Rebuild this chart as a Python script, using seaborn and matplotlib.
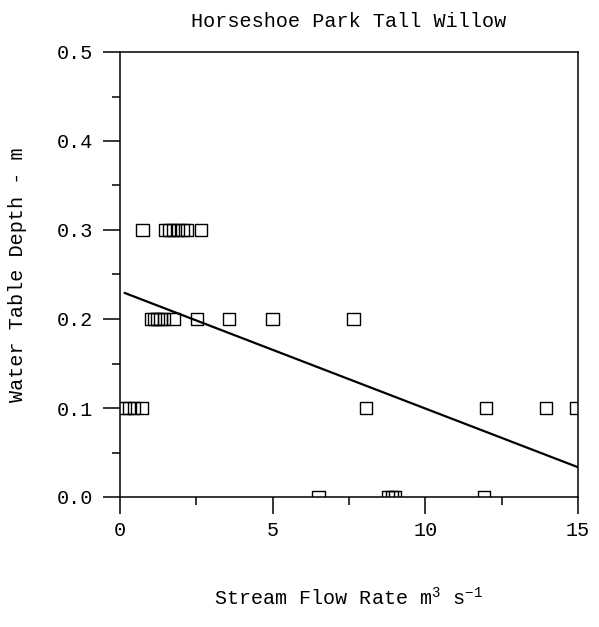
import numpy as np
import pandas as pd
import matplotlib
matplotlib.use("Agg")
import matplotlib.pyplot as plt
import seaborn as sns
from matplotlib.ticker import MultipleLocator, FormatStrFormatter

# Stream flow (m^3/s) and water table depth (m) observations
flow_03 = [0.74, 1.47, 1.60, 1.74, 1.90, 2.05, 2.20, 2.65]
flow_02 = [1.03, 1.13, 1.23, 1.33, 1.45, 1.75, 2.52, 3.57, 4.99, 7.65]
flow_01 = [0.15, 0.30, 0.45, 0.72, 8.05, 11.98, 13.95, 14.93]
flow_00 = [6.50, 8.78, 8.91, 9.00, 11.92]
depth_levels = [0.3, 0.2, 0.1, 0.0]

# Least-squares trend line
fit_intercept = 0.2313
fit_slope = -0.01319

x_max = 15.0
y_max = 0.5

title = "Horseshoe Park Tall Willow"
x_label = "Stream Flow Rate m$^{3}$ s$^{-1}$"
y_label = "Water Table Depth - m"

groups = [flow_03, flow_02, flow_01, flow_00]
df = pd.DataFrame({
    "flow": np.concatenate(groups),
    "depth": np.concatenate([[lvl] * len(g) for lvl, g in zip(depth_levels, groups)]),
})

sns.set_theme(style="white")
plt.rcParams["font.family"] = ["Liberation Mono", "DejaVu Sans Mono"]
plt.rcParams["mathtext.fontset"] = "custom"
plt.rcParams["mathtext.rm"] = "Liberation Mono"
plt.rcParams["mathtext.it"] = "Liberation Mono"
plt.rcParams["mathtext.default"] = "rm"

fig = plt.figure(figsize=(5.99, 6.27), dpi=100)
ax = fig.add_axes([120 / 599, 1 - 497 / 627, 458 / 599, 445 / 627])

sns.scatterplot(data=df, x="flow", y="depth", ax=ax, marker="s", s=80,
                facecolor="none", edgecolor="black", linewidth=1.0,
                zorder=3)

line_x = np.array([df["flow"].min(), x_max])
line_df = pd.DataFrame({"flow": line_x, "depth": fit_intercept + fit_slope * line_x})
sns.lineplot(data=line_df, x="flow", y="depth", ax=ax, color="black",
             linewidth=1.6, zorder=2)

ax.set_xlim(0, x_max)
ax.set_ylim(0, y_max)
ax.xaxis.set_major_locator(MultipleLocator(5))
ax.xaxis.set_minor_locator(MultipleLocator(2.5))
ax.yaxis.set_major_locator(MultipleLocator(0.1))
ax.yaxis.set_minor_locator(MultipleLocator(0.05))
ax.xaxis.set_major_formatter(FormatStrFormatter("%d"))
ax.yaxis.set_major_formatter(FormatStrFormatter("%.1f"))

ax.tick_params(axis="both", which="major", direction="out", length=12,
               width=1.1, color="black", labelsize=14.5, labelcolor="black")
ax.tick_params(axis="both", which="minor", direction="out", length=6,
               width=1.1, color="black")
ax.tick_params(axis="x", which="major", pad=5)
ax.tick_params(axis="y", which="major", pad=7)
ax.tick_params(bottom=True, left=True, top=False, right=False, which="both")

for sp in ax.spines.values():
    sp.set_color("black")
    sp.set_linewidth(1.1)

ax.set_title(title, fontsize=14.5, pad=18, color="black")
ax.set_xlabel(x_label, fontsize=14.5, labelpad=34, color="black")
ax.set_ylabel(y_label, fontsize=14.5, labelpad=22, color="black")

fig.savefig("out.png", dpi=100, facecolor="white")
